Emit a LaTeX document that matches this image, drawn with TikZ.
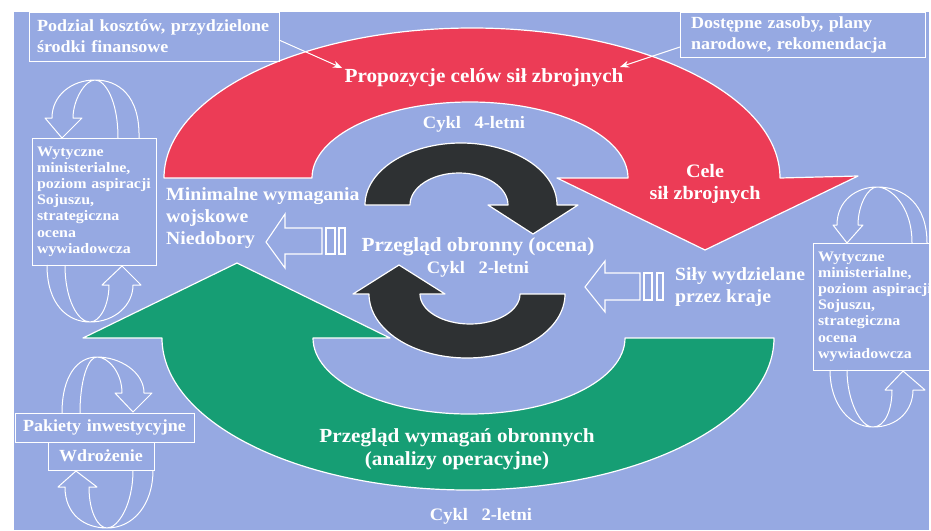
\documentclass[tikz,border=0pt]{standalone}
\usepackage{fontspec}
\setmainfont{Liberation Serif}[FakeStretch=1.06]
\newfontfamily\widefont{Liberation Serif}[FakeStretch=1.1]
\usetikzlibrary{arrows.meta, positioning}
\definecolor{tlo}{RGB}{150,169,226}
\definecolor{czerwony}{RGB}{236,60,86}
\definecolor{zielony}{RGB}{22,158,116}
\definecolor{ciemny}{RGB}{46,49,51}
\tikzset{
    band/.style={draw=white, line width=1.2pt, line join=round}, % the big curved arrows
    ring/.style={draw=white, line width=1pt, line join=round}, % hollow rotating arrows round the boxes
    hollow/.style={draw=white, line width=1.1pt}, % small hollow arrows
    box/.style={draw=white, line width=1pt, text=white, anchor=north west, outer sep=0pt, align=left,
        font=\bfseries\fontsize{17}{21}\selectfont}, % white framed boxes
    smallbox/.style={box, inner xsep=5pt, minimum height=127pt,
        font=\widefont\bfseries\fontsize{14.5}{16.2}\selectfont},
    lbl/.style={text=white, inner sep=0pt, align=center, font=\bfseries\fontsize{20}{23}\selectfont},
    sidelbl/.style={lbl, anchor=west, align=left, font=\bfseries\fontsize{18.6}{21.5}\selectfont},
    cykl/.style={lbl, font=\bfseries\fontsize{17.5}{20}\selectfont},
    conn/.style={draw=white, line width=1pt, -{Stealth[length=9pt, width=7pt]}},
}

\begin{document}
\begin{tikzpicture}[x=1pt, y=-1pt]
    \useasboundingbox (0,0) rectangle (931,530);
    \fill[white] (0,0) rectangle (931,530);
    \fill[tlo] (14,12) rectangle (929,530);

    % red arrow, 4-year cycle
    \path[band, fill=czerwony] (164,178) arc (180:360:308 and 150) -- (858,176) -- (705,250)
        -- (557,178) -- (628,178) arc (360:180:158 and 76) -- cycle;
    % green arrow
    \path[band, fill=zielony] (774,338) arc (0:180:306 and 152) -- (83,338) -- (237,263)
        -- (390,338) -- (313,338) arc (180:0:156 and 76) -- cycle;
    % black arrows, 2-year cycle
    \path[band, fill=ciemny] (365,205) arc (180:360:96 and 62) -- (578,205) -- (533,234)
        -- (488,205) -- (508,205) arc (360:180:49 and 32) -- cycle;
    \path[band, fill=ciemny] (565,294) arc (0:180:98 and 64) -- (353,294) -- (399,265)
        -- (445,294) -- (420,294) arc (180:0:50 and 30) -- cycle;

    % boxes
    \node[box, text width=234pt, inner xsep=8pt, minimum height=49pt] (koszty) at (29,12)
        {Podzial kosztów, przydzielone\\środki finansowe};
    \node[box, text width=223pt, inner xsep=11pt, minimum height=45pt] (zasoby) at (680,12)
        {Dostępne zasoby, plany\\narodowe, rekomendacja};
    \node[smallbox, text width=114pt] (wytL) at (32,138)
        {Wytyczne\\ministerialne,\\poziom aspiracji\\Sojuszu,\\strategiczna\\ocena\\wywiadowcza};
    \node[smallbox, text width=114pt] (wytR) at (813,243)
        {Wytyczne\\ministerialne,\\poziom aspiracji\\Sojuszu,\\strategiczna\\ocena\\wywiadowcza};
    \node[box, align=center, text width=175pt, inner xsep=2pt, minimum height=29pt] (pakiety) at (15,413)
        {Pakiety inwestycyjne};
    \node[box, align=center, text width=102pt, inner xsep=2pt, minimum height=28pt] (wdroz) at (48,442)
        {Wdrożenie};

    % rings above and below the boxes
    \draw[ring] (139,138) .. controls (140,95) and (118,80) .. (95,80) .. controls (72,80) and (52,95) .. (52,118)
        -- (45,118) -- (62,138) -- (82,118) -- (73,118) .. controls (73,100) and (85,80) .. (95,80)
        .. controls (105,80) and (118,100) .. (118,138);
    \draw[ring] (47,265) .. controls (47,305) and (68,322) .. (90,322) .. controls (115,322) and (133,305) .. (133,285)
        -- (141,285) -- (122,266) -- (102,285) -- (109,285) .. controls (109,305) and (100,322) .. (90,322)
        .. controls (78,322) and (65,300) .. (65,265);
    \draw[ring] (927,243) .. controls (927,205) and (905,187) .. (877,187) .. controls (857,187) and (837,200) .. (837,225)
        -- (833,225) -- (847,243) -- (863,225) -- (858,225) .. controls (858,205) and (868,187) .. (877,187)
        .. controls (890,187) and (912,205) .. (912,243);
    \draw[ring] (830,370) .. controls (830,405) and (850,427) .. (873,427) .. controls (898,427) and (913,410) .. (913,390)
        -- (925,390) -- (903,371) -- (885,390) -- (892,390) .. controls (892,410) and (885,427) .. (873,427)
        .. controls (860,427) and (847,400) .. (847,370);
    \draw[ring] (62,413) .. controls (62,375) and (78,357) .. (97,357) .. controls (120,357) and (144,372) .. (144,393)
        -- (152,393) -- (133,412) -- (115,393) -- (122,393) .. controls (122,372) and (108,357) .. (97,357)
        .. controls (88,357) and (80,380) .. (80,413);
    \draw[ring] (153,470) .. controls (153,505) and (133,528) .. (107,528) .. controls (85,528) and (65,515) .. (65,487)
        -- (58,487) -- (76,471) -- (97,487) -- (89,487) .. controls (89,512) and (98,528) .. (107,528)
        .. controls (118,528) and (133,505) .. (133,470);

    % small hollow arrows
    \draw[hollow] (266,242) -- (285,214) -- (285,228) -- (322,228) -- (322,254) -- (285,254) -- (285,268) -- cycle;
    \draw[hollow] (326,228) rectangle (335,254) (339,228) rectangle (345,254);
    \draw[hollow] (585,287) -- (605,261) -- (605,273) -- (640,273) -- (640,300) -- (605,300) -- (605,312) -- cycle;
    \draw[hollow] (644,273) rectangle (652,300) (657,273) rectangle (663,300);

    % labels
    \node[lbl] (propozycje) at (484,78) {Propozycje celów sił zbrojnych};
    \node[cykl] (cykl4) at (474,124) {Cykl\hspace{0.5em} 4-letni};
    \node[lbl, font=\bfseries\fontsize{19}{22}\selectfont] (cele) at (705,184) {Cele\\sił zbrojnych};
    \node[sidelbl] (minwym) at (166,207) {Minimalne wymagania\\wojskowe};
    \node[sidelbl] (niedobory) at (166,240) {Niedobory};
    \node[lbl] (obronny) at (478,247) {Przegląd obronny (ocena)};
    \node[cykl] (cykl2) at (478,269) {Cykl\hspace{0.5em} 2-letni};
    \node[sidelbl] (sily) at (675,287) {Siły wydzielane\\przez kraje};
    \node[lbl] (wymagania) at (457,449) {Przegląd wymagań obronnych\\(analizy operacyjne)};
    \node[cykl] (cykl2dol) at (481,516) {Cykl\hspace{0.5em} 2-letni};

    % connectors from the top boxes
    \coordinate (kosztyend) at (342,68);
    \coordinate (zasobyend) at (620,67);
    \draw[conn] ([yshift=-3.5pt]koszty.east) -- (kosztyend);
    \draw[conn] ([yshift=-12.5pt]zasoby.west) -- (zasobyend);
\end{tikzpicture}
\end{document}
